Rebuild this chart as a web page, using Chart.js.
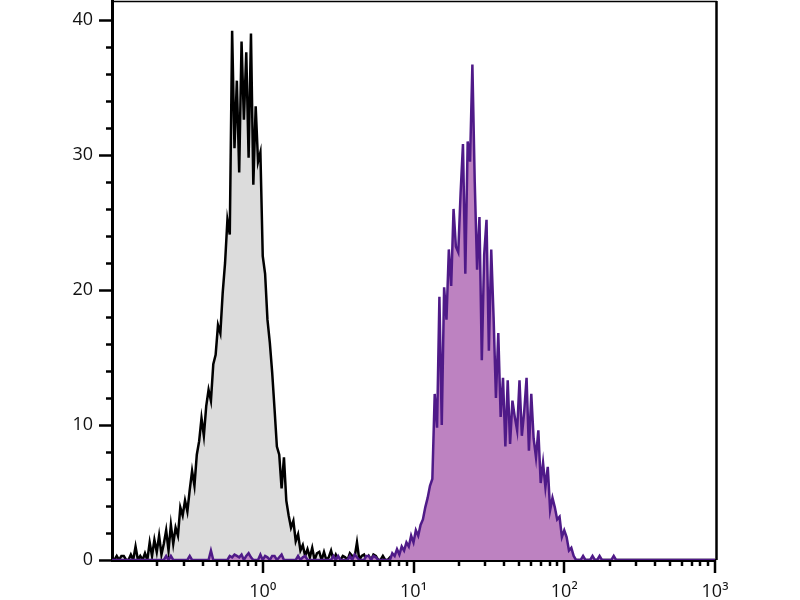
<!DOCTYPE html>
<html lang="en">
<head>
  <meta charset="UTF-8">
  <title>Flow cytometry histogram overlay</title>
  <script src="https://cdn.jsdelivr.net/npm/chart.js"></script>
  <style>
    body {
      margin: 0;
      background: #ffffff;
    }
    .chart-container {
      position: relative;
      width: 800px;
      height: 600px;
    }
  </style>
</head>
<body>
  <div class="chart-container">
    <canvas id="histChart" width="800" height="600"></canvas>
  </div>

  <script>
    // 256 log channels spanning 10^-1 .. 10^3 (64 channels per decade)
    const blackCounts = [
      0, 0, 0.3, 0, 0.3, 0.3, 0, 0, 0.4, 0, 1, 0, 0.3, 0, 0.5, 0,
      1.3, 0.3, 1.5, 0.6, 1.8, 0.4, 1.2, 2.2, 0.7, 2.6, 1.2, 2.4, 1.8, 3.9, 3.3, 4.4,
      3.6, 5.2, 6.6, 5.5, 7.8, 8.8, 10.5, 9.2, 11.4, 12.6, 11.8, 14.5, 15.2, 17.4, 16.8, 19.8,
      22, 25.2, 24.1, 39.2, 30.5, 35.5, 28.7, 38.4, 32.6, 37.6, 29.8, 39.0, 27.8, 33.6, 29.5, 30.2,
      22.5, 21.2, 17.8, 16.1, 13.9, 11.2, 8.4, 7.8, 5.3, 7.6, 4.4, 3.3, 2.4, 2.9, 1.4, 1.9,
      0.7, 1.1, 0.3, 0.8, 0.2, 0.9, 0, 0.5, 0.6, 0, 0.6, 0, 0.2, 0.7, 0, 0.4,
      0, 0, 0.3, 0.2, 0, 0.5, 0.3, 0.2, 1.3, 0, 0.3, 0.4, 0, 0.3, 0, 0.4,
      0.3, 0, 0, 0.3, 0, 0, 0.2, 0, 0, 0, 0, 0, 0, 0, 0, 0,
      0, 0, 0, 0, 0, 0, 0, 0, 0, 0, 0, 0, 0, 0, 0, 0,
      0, 0, 0, 0, 0, 0, 0, 0, 0, 0, 0, 0, 0, 0, 0, 0,
      0, 0, 0, 0, 0, 0, 0, 0, 0, 0, 0, 0, 0, 0, 0, 0,
      0, 0, 0, 0, 0, 0, 0, 0, 0, 0, 0, 0, 0, 0, 0, 0,
      0, 0, 0, 0, 0, 0, 0, 0, 0, 0, 0, 0, 0, 0, 0, 0,
      0, 0, 0, 0, 0, 0, 0, 0, 0, 0, 0, 0, 0, 0, 0, 0,
      0, 0, 0, 0, 0, 0, 0, 0, 0, 0, 0, 0, 0, 0, 0, 0,
      0, 0, 0, 0, 0, 0, 0, 0, 0, 0, 0, 0, 0, 0, 0, 0,
      0
    ];

    const purpleCounts = [
      0, 0, 0, 0, 0, 0, 0, 0, 0, 0, 0, 0, 0, 0, 0, 0,
      0, 0, 0, 0, 0, 0, 0, 0.3, 0, 0.3, 0, 0, 0, 0, 0, 0,
      0, 0.3, 0, 0, 0, 0, 0, 0, 0, 0, 0.7, 0, 0, 0, 0, 0,
      0, 0, 0.3, 0.2, 0.4, 0.3, 0.2, 0.4, 0, 0.3, 0.5, 0.2, 0, 0, 0, 0.4,
      0, 0.3, 0.2, 0, 0.3, 0.3, 0, 0.2, 0.4, 0, 0, 0, 0, 0, 0, 0.3,
      0, 0.2, 0.3, 0, 0, 0, 0, 0, 0, 0, 0, 0, 0, 0, 0.3, 0,
      0.3, 0, 0, 0, 0, 0.3, 0, 0.4, 0.2, 0, 0, 0, 0.3, 0.3, 0, 0.3,
      0.2, 0, 0, 0, 0, 0, 0, 0.5, 0.3, 0.8, 0.4, 1.0, 0.7, 1.3, 1.0, 1.8,
      1.3, 2.2, 1.8, 2.6, 3.0, 3.9, 4.6, 5.5, 6.0, 12.3, 9.8, 19.5, 10.0, 20.2, 17.8, 23.0,
      20.3, 26.0, 23.2, 22.8, 27.2, 30.8, 21.2, 31.0, 29.5, 36.7, 28.0, 21.5, 25.4, 14.8, 22.6, 25.2,
      15.5, 23.0, 18.0, 12.0, 16.8, 10.6, 13.5, 8.4, 13.3, 8.6, 11.8, 10.6, 9.6, 13.3, 9.2, 11.0,
      13.5, 8.1, 12.3, 9.0, 7.6, 9.6, 5.7, 7.2, 5.4, 6.9, 3.7, 4.6, 3.9, 3.0, 3.2, 1.7,
      2.2, 1.7, 0.7, 0.9, 0.3, 0, 0, 0, 0.3, 0, 0, 0, 0.3, 0, 0, 0.3,
      0, 0, 0, 0, 0, 0.3, 0, 0, 0, 0, 0, 0, 0, 0, 0, 0,
      0, 0, 0, 0, 0, 0, 0, 0, 0, 0, 0, 0, 0, 0, 0, 0,
      0, 0, 0, 0, 0, 0, 0, 0, 0, 0, 0, 0, 0, 0, 0, 0,
      0
    ];

    // axis ticks (x in channels: 64 = 10^0, 128 = 10^1, ...)
    const xMajorTicks = [64, 128, 192, 256];
    const xTickLabels = ['10⁰', '10¹', '10²', '10³'];
    const yMajorTicks = [0, 10, 20, 30, 40];
    const yTickLabels = ['0', '10', '20', '30', '40'];
    const yMinorTicks = [2, 4, 6, 8, 12, 14, 16, 18, 22, 24, 26, 28, 32, 34, 36, 38];

    // minor log ticks: 2..9 within each decade
    const xMinorTicks = [];
    for (let d = 0; d < 4; d++) {
      for (let k = 2; k <= 9; k++) xMinorTicks.push(64 * d + 64 * Math.log10(k));
    }

    Chart.defaults.font.family = '"Open Sans", "Noto Sans", sans-serif';
    Chart.defaults.font.size = 18;
    Chart.defaults.color = '#111111';

    // draws the frame (top/right) and the outward major/minor tick marks
    const axisMarks = {
      id: 'axisMarks',
      afterDraw(chart) {
        const { ctx, chartArea: a, scales: { x, y } } = chart;
        ctx.save();
        ctx.strokeStyle = '#000000';
        ctx.lineWidth = 1.5;
        ctx.beginPath();
        ctx.moveTo(a.left, a.top + 0.5);
        ctx.lineTo(a.right + 2, a.top + 0.5);
        ctx.stroke();
        ctx.lineWidth = 2.5;
        ctx.beginPath();
        ctx.moveTo(a.right + 1.5, a.top);
        ctx.lineTo(a.right + 1.5, a.bottom);
        ctx.stroke();

        ctx.lineWidth = 2.5;
        x.ticks.forEach(t => {
          const px = Math.round(x.getPixelForValue(t.value));
          const len = t.label ? 13 : 6;
          ctx.beginPath();
          ctx.moveTo(px, a.bottom);
          ctx.lineTo(px, a.bottom + len);
          ctx.stroke();
        });
        y.ticks.forEach(t => {
          const py = Math.round(y.getPixelForValue(t.value)) + 0.5;
          const len = t.label ? 13 : 6;
          ctx.beginPath();
          ctx.moveTo(a.left, py);
          ctx.lineTo(a.left - len, py);
          ctx.stroke();
        });
        ctx.restore();
      }
    };

    const ctx = document.getElementById('histChart').getContext('2d');
    const histChart = new Chart(ctx, {
      type: 'line',
      data: {
        labels: blackCounts.map((_, ch) => ch),
        datasets: [
          {
            label: 'Control',
            data: blackCounts,
            borderColor: '#000000',
            backgroundColor: '#dcdcdc',
            borderWidth: 2.5,
            fill: 'origin',
            pointRadius: 0,
            tension: 0,
            order: 1
          },
          {
            label: 'Stained',
            data: purpleCounts,
            borderColor: '#4f1a88',
            backgroundColor: '#bd82c1',
            borderWidth: 2.5,
            fill: 'origin',
            pointRadius: 0,
            tension: 0,
            order: 0
          }
        ]
      },
      options: {
        responsive: false,
        animation: false,
        layout: {
          padding: { left: 0, right: 85, top: 1, bottom: 0 }
        },
        plugins: {
          legend: { display: false },
          tooltip: { enabled: false }
        },
        scales: {
          x: {
            type: 'linear',
            min: 0,
            max: 256,
            z: 1,
            grid: { display: false, drawTicks: false },
            border: { display: true, color: '#000000', width: 3 },
            afterBuildTicks: (scale) => {
              scale.ticks = [...xMinorTicks, ...xMajorTicks]
                .sort((p, q) => p - q)
                .map(v => ({ value: v }));
            },
            afterFit: (scale) => {
              scale.height = 40;
              scale.paddingLeft = 0;
              scale.paddingRight = 0;
            },
            ticks: {
              autoSkip: false,
              maxRotation: 0,
              minRotation: 0,
              padding: 21,
              callback: (value) => {
                const i = xMajorTicks.indexOf(value);
                return i >= 0 ? xTickLabels[i] : '';
              }
            }
          },
          y: {
            min: 0,
            max: 41.4,
            z: 1,
            grid: { display: false, drawTicks: false },
            border: { display: true, color: '#000000', width: 3 },
            afterBuildTicks: (scale) => {
              scale.ticks = [...yMajorTicks, ...yMinorTicks]
                .sort((p, q) => p - q)
                .map(v => ({ value: v }));
            },
            afterFit: (scale) => {
              scale.width = 112;
              scale.paddingTop = 0;
              scale.paddingBottom = 0;
            },
            ticks: {
              autoSkip: false,
              padding: 19,
              callback: (value) => {
                const i = yMajorTicks.indexOf(value);
                return i >= 0 ? yTickLabels[i] : '';
              }
            }
          }
        }
      },
      plugins: [axisMarks]
    });
  </script>
</body>
</html>
